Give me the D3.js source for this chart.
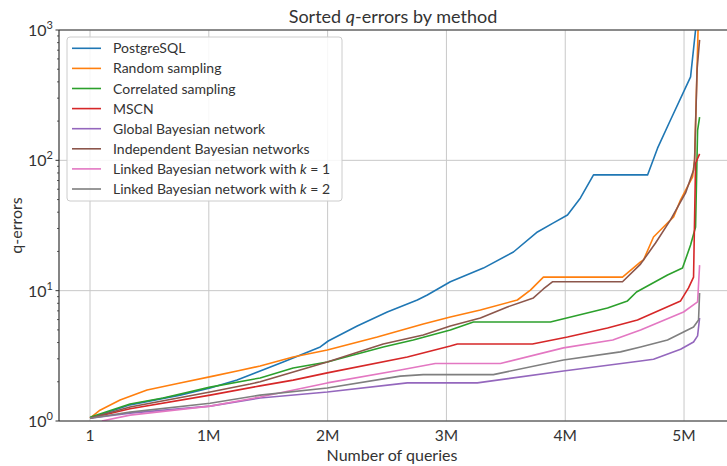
<!DOCTYPE html>
<html lang="en">
<head>
    <meta charset="UTF-8">
    <title>Sorted q-errors by method</title>
    <script src="https://d3js.org/d3.v7.min.js"></script>
    <style>
        body {
            margin: 0;
            background: #fff;
        }
        svg text {
            font-family: Lato, "Open Sans", sans-serif;
            fill: #333;
        }
        .grid line {
            stroke: #c8c8c8;
            stroke-width: 1;
        }
        .series {
            fill: none;
            stroke-width: 1.6;
            stroke-linejoin: round;
        }
    </style>
</head>
<body>
    <div id="chart"></div>

    <script>
        // x in millions of queries, y = q-error
        const methods = [
            "PostgreSQL",
            "Random sampling",
            "Correlated sampling",
            "MSCN",
            "Global Bayesian network",
            "Independent Bayesian networks",
            "Linked Bayesian network with k = 1",
            "Linked Bayesian network with k = 2"
        ];
        const colors = ["#1f77b4", "#ff7f0e", "#2ca02c", "#d62728", "#9467bd", "#8c564b", "#e377c2", "#7f7f7f"];

        const postgres = [
            [0, 1.05], [0.337, 1.33], [0.758, 1.58], [1.011, 1.79], [1.238, 2.06], [1.432, 2.42],
            [1.626, 2.84], [1.938, 3.70], [2.005, 4.11], [2.249, 5.36], [2.502, 6.86], [2.755, 8.48],
            [2.839, 9.27], [3.033, 11.7], [3.311, 14.9], [3.564, 19.8], [3.766, 28.2], [3.901, 33.1],
            [4.019, 38.1], [4.128, 51.5], [4.238, 77.3], [4.693, 77.3], [4.777, 124], [4.886, 204],
            [5.055, 437], [5.097, 1000], [5.105, 3000]
        ];
        const randomSampling = [
            [0, 1.05], [0.084, 1.21], [0.253, 1.45], [0.480, 1.73], [0.758, 1.96], [1.036, 2.21],
            [1.238, 2.42], [1.432, 2.64], [1.710, 3.10], [1.997, 3.51], [2.418, 4.41], [2.805, 5.55],
            [3.033, 6.28], [3.286, 7.11], [3.597, 8.48], [3.707, 10.1], [3.816, 12.7], [4.482, 12.7],
            [4.634, 16.6], [4.659, 17.2], [4.743, 25.8], [4.827, 30.8], [4.912, 36.8], [4.971, 49.7],
            [5.072, 74.6], [5.089, 101], [5.118, 1000], [5.125, 3000]
        ];
        const correlatedSampling = [
            [0, 1.07], [0.337, 1.35], [0.615, 1.50], [1.011, 1.82], [1.432, 2.14], [1.710, 2.55],
            [1.997, 2.84], [2.468, 3.70], [2.721, 4.18], [3.033, 4.99], [3.227, 5.75], [3.875, 5.75],
            [4.356, 7.36], [4.524, 8.34], [4.600, 9.77], [4.861, 13.2], [4.987, 14.9], [5.055, 22.4],
            [5.097, 30.8], [5.114, 170], [5.131, 215]
        ];
        const mscn = [
            [0, 1.05], [0.337, 1.24], [1.011, 1.58], [1.432, 1.86], [1.710, 2.06], [1.997, 2.34],
            [2.671, 3.10], [3.033, 3.76], [3.092, 3.90], [3.724, 3.90], [4.019, 4.41], [4.356, 5.17],
            [4.608, 5.96], [4.971, 8.34], [5.038, 10.5], [5.080, 12.7], [5.097, 95], [5.131, 112]
        ];
        const globalBN = [
            [0, 1.05], [0.337, 1.15], [1.011, 1.30], [1.432, 1.50], [1.997, 1.67], [2.671, 1.96],
            [3.260, 1.96], [3.985, 2.42], [4.634, 2.89], [4.743, 2.98], [4.971, 3.55], [5.080, 4.04],
            [5.114, 4.5], [5.131, 6.17]
        ];
        const independentBN = [
            [0, 1.05], [0.337, 1.28], [1.011, 1.67], [1.348, 1.92], [1.432, 2.00], [1.997, 2.84],
            [2.468, 3.90], [2.805, 4.57], [3.033, 5.36], [3.286, 6.17], [3.513, 7.50], [3.732, 8.79],
            [3.816, 10.3], [3.892, 11.7], [4.482, 11.7], [4.634, 16.0], [4.760, 23.2], [4.886, 34.9],
            [5.013, 56.2], [5.080, 84.4], [5.089, 101], [5.110, 500], [5.131, 840]
        ];
        const linkedK1 = [
            [0.10, 1.0], [0.337, 1.11], [1.011, 1.30], [1.432, 1.53], [1.997, 1.96], [2.612, 2.46],
            [2.906, 2.76], [3.454, 2.76], [3.985, 3.64], [4.40, 4.18], [4.634, 4.99], [4.996, 6.86],
            [5.114, 8.19], [5.131, 15.7]
        ];
        const linkedK2 = [
            [0, 1.05], [0.337, 1.17], [1.011, 1.37], [1.432, 1.58], [1.997, 1.79], [2.612, 2.21],
            [2.805, 2.27], [3.395, 2.27], [3.985, 2.94], [4.465, 3.39], [4.634, 3.70], [4.861, 4.18],
            [5.080, 5.26], [5.122, 5.96], [5.131, 9.6]
        ];
        const seriesData = [postgres, randomSampling, correlatedSampling, mscn, globalBN, independentBN, linkedK1, linkedK2];

        const xTicks = [0, 1, 2, 3, 4, 5];
        const xTickLabels = ["1", "1M", "2M", "3M", "4M", "5M"];
        const yTicks = [1, 10, 100, 1000];
        const yTickExp = ["0", "1", "2", "3"];

        const width = 727, height = 466;
        const margin = {top: 30, right: -1, bottom: 45, left: 59};

        const svg = d3.select("#chart").append("svg")
            .attr("width", width)
            .attr("height", height);

        const x = d3.scaleLinear()
            .domain([-0.261, 5.37])
            .range([margin.left, width - margin.right]);

        const y = d3.scaleLog()
            .domain([1, 1000])
            .range([height - margin.bottom, margin.top]);

        svg.append("defs").append("clipPath")
            .attr("id", "plot-clip")
            .append("rect")
            .attr("x", margin.left)
            .attr("y", margin.top)
            .attr("width", width - margin.right - margin.left)
            .attr("height", height - margin.bottom - margin.top);

        // grid
        const grid = svg.append("g").attr("class", "grid");
        grid.selectAll(".vx")
            .data(xTicks)
            .enter().append("line")
            .attr("x1", d => x(d)).attr("x2", d => x(d))
            .attr("y1", margin.top).attr("y2", height - margin.bottom);
        grid.selectAll(".hy")
            .data(yTicks)
            .enter().append("line")
            .attr("x1", margin.left).attr("x2", width - margin.right)
            .attr("y1", d => y(d)).attr("y2", d => y(d));

        // lines
        const line = d3.line()
            .x(d => x(d[0]))
            .y(d => y(d[1]));

        svg.append("g")
            .attr("clip-path", "url(#plot-clip)")
            .selectAll("path")
            .data(seriesData)
            .enter().append("path")
            .attr("class", "series")
            .attr("stroke", (d, i) => colors[i])
            .attr("d", line);

        // spines
        svg.append("line")
            .attr("x1", margin.left).attr("x2", width)
            .attr("y1", margin.top).attr("y2", margin.top)
            .attr("stroke", "#333").attr("stroke-width", 1.2);
        svg.append("line")
            .attr("x1", margin.left).attr("x2", width)
            .attr("y1", height - margin.bottom).attr("y2", height - margin.bottom)
            .attr("stroke", "#333").attr("stroke-width", 1.2);
        svg.append("line")
            .attr("x1", margin.left).attr("x2", margin.left)
            .attr("y1", margin.top).attr("y2", height - margin.bottom)
            .attr("stroke", "#333").attr("stroke-width", 1.2);

        // y minor ticks
        const minor = [];
        [1, 10, 100].forEach(b => { for (let k = 2; k <= 9; k++) minor.push(b * k); });
        svg.append("g").selectAll("line")
            .data(minor)
            .enter().append("line")
            .attr("x1", margin.left - 2).attr("x2", margin.left)
            .attr("y1", d => y(d)).attr("y2", d => y(d))
            .attr("stroke", "#333").attr("stroke-width", 0.8);
        svg.append("g").selectAll("line")
            .data(yTicks)
            .enter().append("line")
            .attr("x1", margin.left - 3.5).attr("x2", margin.left)
            .attr("y1", d => y(d)).attr("y2", d => y(d))
            .attr("stroke", "#333").attr("stroke-width", 1);

        // y tick labels 10^n
        const yl = svg.append("g").selectAll("text")
            .data(yTicks)
            .enter().append("text")
            .attr("x", margin.left - 6)
            .attr("y", d => y(d) + 6)
            .attr("text-anchor", "end")
            .style("font-size", "16px");
        yl.append("tspan").text("10");
        yl.append("tspan")
            .attr("dy", -7)
            .style("font-size", "11px")
            .text((d, i) => yTickExp[i]);

        // x tick labels
        svg.append("g").selectAll("text")
            .data(xTicks)
            .enter().append("text")
            .attr("x", d => x(d))
            .attr("y", height - margin.bottom + 20)
            .attr("text-anchor", "middle")
            .style("font-size", "15.5px")
            .text((d, i) => xTickLabels[i]);

        // axis labels
        svg.append("text")
            .attr("x", (margin.left + width) / 2 - 1)
            .attr("y", height - 5)
            .attr("text-anchor", "middle")
            .style("font-size", "16px")
            .text("Number of queries");
        svg.append("text")
            .attr("transform", `translate(22, ${(margin.top + height - margin.bottom) / 2}) rotate(-90)`)
            .attr("text-anchor", "middle")
            .style("font-size", "16px")
            .text("q-errors");

        // title
        const title = svg.append("text")
            .attr("x", (margin.left + width) / 2)
            .attr("y", 23)
            .attr("text-anchor", "middle")
            .style("font-size", "18px");
        title.append("tspan").text("Sorted ");
        title.append("tspan").style("font-style", "italic").text("q");
        title.append("tspan").text("-errors by method");

        // legend
        const legend = svg.append("g").attr("transform", "translate(67, 37)");
        legend.append("rect")
            .attr("width", 275).attr("height", 164)
            .attr("rx", 3)
            .attr("fill", "#fff").attr("fill-opacity", 0.85)
            .attr("stroke", "#ccc");
        const item = legend.selectAll(".item")
            .data(methods)
            .enter().append("g")
            .attr("transform", (d, i) => `translate(0, ${11.3 + i * 20.1})`);
        item.append("line")
            .attr("x1", 5).attr("x2", 34)
            .attr("stroke", (d, i) => colors[i])
            .attr("stroke-width", 1.6);
        item.each(function (d) {
            const t = d3.select(this).append("text")
                .attr("x", 46).attr("y", 5)
                .style("font-size", "14px");
            const m = d.match(/^(.*with )k( = \d)$/);
            if (m) {
                t.append("tspan").text(m[1]);
                t.append("tspan").style("font-style", "italic").text("k");
                t.append("tspan").text(m[2]);
            } else {
                t.text(d);
            }
        });
    </script>
</body>
</html>
